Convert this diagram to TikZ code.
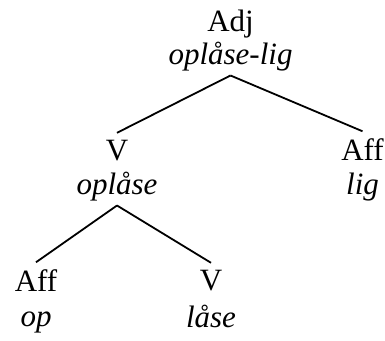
\documentclass[tikz,border=0pt]{standalone}
\usepackage{fontspec}
\setmainfont{Liberation Serif}
\usepackage{tikz}

\begin{document}
\begin{tikzpicture}[x=0.5pt, y=-0.5pt, line width=0.9pt,
  cat/.style={anchor=base, inner sep=3.5pt, font=\fontsize{15.5}{17}\selectfont},
  word/.style={anchor=base, inner sep=1.5pt, font=\fontsize{15.5}{17}\selectfont\itshape}]
\useasboundingbox (0,0) rectangle (385,341);
% top
\node [cat]  (adj)   at (230.5,32) {Adj};
\node [word] (adjw)  at (230.5,65) {oplåse-lig};
% middle
\node [cat]  (v)     at (117,161) {V};
\node [word] (vw)    at (117,195) {oplåse};
\node [cat]  (aff)   at (362.5,161) {Aff};
\node [word] (affw)  at (362.5,195) {lig};
% bottom
\node [cat]  (op)    at (36,292) {Aff};
\node [word] (opw)   at (36,327) {op};
\node [cat]  (las)   at (211,291) {V};
\node [word] (lasw)  at (211,328) {låse};
\draw [-] (adjw.south) -- (v.north);
\draw [-] (adjw.south) -- (aff.north);
\draw [-] (vw.south) -- (op.north);
\draw [-] (vw.south) -- (las.north);
\end{tikzpicture}
\end{document}
